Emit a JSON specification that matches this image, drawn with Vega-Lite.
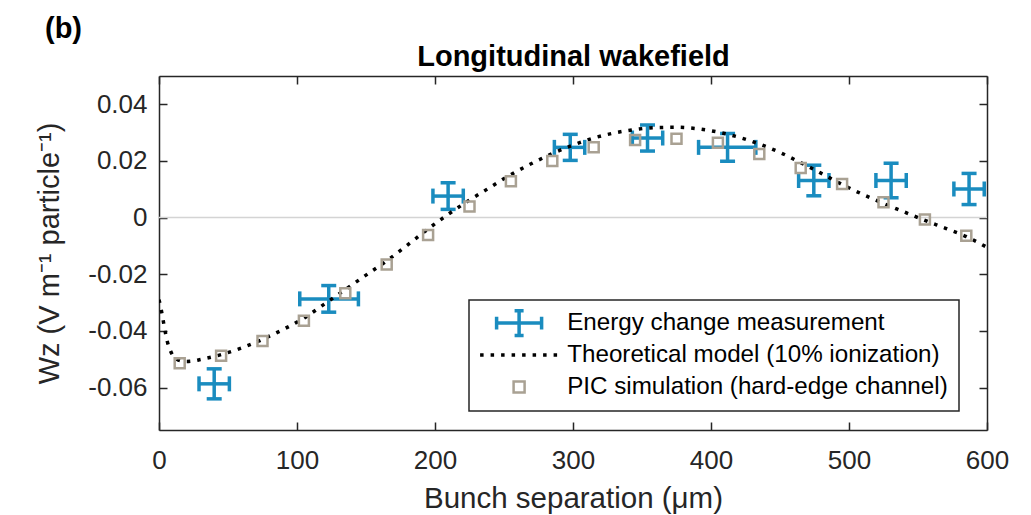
{
  "$schema": "https://vega.github.io/schema/vega-lite/v6.json",
  "width": 828,
  "height": 354,
  "autosize": {"type": "none"},
  "padding": {"left": 159, "top": 76, "right": 44, "bottom": 85},
  "title": {"text": "(b)", "anchor": "start", "frame": "group", "dx": -114, "dy": 6, "fontSize": 29, "fontWeight": "bold", "font": "Liberation Sans", "color": "#000000", "offset": 4},
  "datasets": {
    "meas": [
      {"x": 40, "y": -0.0587, "xlo": 29, "xhi": 51, "ylo": -0.064, "yhi": -0.0534},
      {"x": 123, "y": -0.0287, "xlo": 102, "xhi": 144.5, "ylo": -0.0334, "yhi": -0.024},
      {"x": 209.5, "y": 0.0076, "xlo": 198.5, "xhi": 220.5, "ylo": 0.0029, "yhi": 0.0123},
      {"x": 298, "y": 0.0248, "xlo": 286.5, "xhi": 308.5, "ylo": 0.0202, "yhi": 0.0294},
      {"x": 354, "y": 0.0281, "xlo": 343, "xhi": 365, "ylo": 0.0235, "yhi": 0.0327},
      {"x": 412, "y": 0.0248, "xlo": 391, "xhi": 432.5, "ylo": 0.0199, "yhi": 0.0297},
      {"x": 474.5, "y": 0.0131, "xlo": 463.5, "xhi": 485.5, "ylo": 0.0077, "yhi": 0.0185},
      {"x": 530.5, "y": 0.0131, "xlo": 519.5, "xhi": 541.5, "ylo": 0.007, "yhi": 0.0192},
      {"x": 587, "y": 0.0101, "xlo": 576, "xhi": 598, "ylo": 0.0046, "yhi": 0.0156}
    ],
    "theory": [
      {"x": 0, "y": -0.029}, {"x": 1, "y": -0.031}, {"x": 2, "y": -0.0335}, {"x": 3, "y": -0.0362},
      {"x": 4, "y": -0.039}, {"x": 5, "y": -0.0415}, {"x": 6, "y": -0.0437}, {"x": 8, "y": -0.0467},
      {"x": 10, "y": -0.0487}, {"x": 13, "y": -0.05}, {"x": 16, "y": -0.0506}, {"x": 20, "y": -0.0508},
      {"x": 25, "y": -0.0506}, {"x": 30, "y": -0.0501}, {"x": 45, "y": -0.0484}, {"x": 60, "y": -0.046},
      {"x": 75, "y": -0.043}, {"x": 90, "y": -0.0395}, {"x": 105, "y": -0.0355}, {"x": 120, "y": -0.0305},
      {"x": 135, "y": -0.0254}, {"x": 150, "y": -0.0203}, {"x": 165, "y": -0.0153}, {"x": 180, "y": -0.0097},
      {"x": 195, "y": -0.004}, {"x": 210, "y": 0.0013}, {"x": 225, "y": 0.0062}, {"x": 240, "y": 0.0107},
      {"x": 255, "y": 0.0152}, {"x": 270, "y": 0.0191}, {"x": 285, "y": 0.0226}, {"x": 300, "y": 0.0256},
      {"x": 315, "y": 0.0281}, {"x": 330, "y": 0.0299}, {"x": 345, "y": 0.0311}, {"x": 360, "y": 0.0318},
      {"x": 375, "y": 0.0319}, {"x": 390, "y": 0.0314}, {"x": 405, "y": 0.0302}, {"x": 420, "y": 0.0284},
      {"x": 435, "y": 0.026}, {"x": 450, "y": 0.023}, {"x": 465, "y": 0.0194}, {"x": 480, "y": 0.0156},
      {"x": 495, "y": 0.0117}, {"x": 510, "y": 0.0082}, {"x": 525, "y": 0.005}, {"x": 540, "y": 0.002},
      {"x": 555, "y": -0.001}, {"x": 570, "y": -0.0038}, {"x": 585, "y": -0.0067}, {"x": 600, "y": -0.0105}
    ],
    "pic": [
      {"x": 15, "y": -0.0514}, {"x": 45, "y": -0.0488}, {"x": 75, "y": -0.0436}, {"x": 105, "y": -0.0364},
      {"x": 135, "y": -0.0267}, {"x": 165, "y": -0.0166}, {"x": 195, "y": -0.0061}, {"x": 225, "y": 0.0039},
      {"x": 255, "y": 0.0128}, {"x": 285, "y": 0.02}, {"x": 315, "y": 0.0248}, {"x": 345, "y": 0.0274},
      {"x": 375, "y": 0.0278}, {"x": 405, "y": 0.0264}, {"x": 435, "y": 0.0225}, {"x": 465, "y": 0.0175},
      {"x": 495, "y": 0.0119}, {"x": 525, "y": 0.0054}, {"x": 555, "y": -0.0007}, {"x": 585, "y": -0.0064}
    ]
  },
  "layer": [
    {
      "data": {"values": [{"v": 0}]},
      "mark": {"type": "rule", "color": "#d4d4d4", "strokeWidth": 1.5},
      "encoding": {
        "y": {"field": "v", "type": "quantitative", "scale": {"domain": [-0.075, 0.05], "nice": false, "zero": false}, "axis": null}
      }
    },
    {
      "data": {"name": "meas"},
      "mark": {"type": "rule", "strokeWidth": 3.5},
      "encoding": {
        "x": {"field": "xlo", "type": "quantitative", "scale": {"domain": [0, 600], "nice": false, "zero": false}, "axis": null},
        "x2": {"field": "xhi"},
        "y": {"field": "y", "type": "quantitative", "scale": {"domain": [-0.075, 0.05], "nice": false, "zero": false}, "axis": null},
        "color": {"datum": "Energy change measurement", "type": "nominal", "scale": {"domain": ["Energy change measurement", "Theoretical model (10% ionization)", "PIC simulation (hard-edge channel)"], "range": ["#1a8cbf", "#000000", "#a9a193"]}, "legend": {
          "orient": "none", "legendX": 310, "legendY": 224, "title": null,
          "symbolSize": 900, "labelFontSize": 24.2, "labelFont": "Liberation Sans", "labelColor": "#000000",
          "labelLimit": 0, "padding": 11, "rowPadding": -9, "gridAlign": "all", "symbolOffset": 27, "labelOffset": 36,
          "symbolFillColor": "transparent",
          "strokeColor": "#262626", "fillColor": "#ffffff",
          "encode": {
            "legend": {"update": {"strokeWidth": {"value": 1.5}}},
            "symbols": {"update": {
              "shape": {"signal": "datum.value === 'Energy change measurement' ? 'M-1.5,0H1.5M-1.5,-0.43V0.43M1.5,-0.43V0.43M0,-0.83V0.83M-0.3,-0.83H0.3M-0.3,0.83H0.3' : (datum.value === 'PIC simulation (hard-edge channel)' ? 'square' : 'M-2.6,0H2.6')"},
              "stroke": {"signal": "datum.value === 'Energy change measurement' ? '#1a8cbf' : (datum.value === 'PIC simulation (hard-edge channel)' ? '#a9a193' : '#000000')"},
              "strokeOpacity": {"value": 1},
              "fill": {"value": "transparent"},
              "fillOpacity": {"value": 0},
              "strokeWidth": {"signal": "datum.value === 'PIC simulation (hard-edge channel)' ? 2.5 : 3.5"},
              "strokeDash": {"signal": "datum.value === 'Theoretical model (10% ionization)' ? [3.5, 7] : []"},
              "size": {"signal": "datum.value === 'PIC simulation (hard-edge channel)' ? 121 : 900"},
              "opacity": {"value": 1}
            }}
          }
        }}
      }
    },
    {
      "data": {"name": "meas"},
      "mark": {"type": "rule", "strokeWidth": 3.5},
      "encoding": {
        "x": {"field": "x", "type": "quantitative", "scale": {"domain": [0, 600], "nice": false, "zero": false}, "axis": null},
        "y": {"field": "ylo", "type": "quantitative", "scale": {"domain": [-0.075, 0.05], "nice": false, "zero": false}, "axis": null},
        "y2": {"field": "yhi"},
        "color": {"datum": "Energy change measurement", "type": "nominal"}
      }
    },
    {
      "data": {"name": "meas"},
      "mark": {"type": "tick", "orient": "vertical", "size": 15, "thickness": 3.5, "opacity": 1},
      "encoding": {
        "x": {"field": "xlo", "type": "quantitative", "scale": {"domain": [0, 600], "nice": false, "zero": false}, "axis": null},
        "y": {"field": "y", "type": "quantitative", "scale": {"domain": [-0.075, 0.05], "nice": false, "zero": false}, "axis": null},
        "color": {"datum": "Energy change measurement", "type": "nominal"}
      }
    },
    {
      "data": {"name": "meas"},
      "mark": {"type": "tick", "orient": "vertical", "size": 15, "thickness": 3.5, "opacity": 1},
      "encoding": {
        "x": {"field": "xhi", "type": "quantitative", "scale": {"domain": [0, 600], "nice": false, "zero": false}, "axis": null},
        "y": {"field": "y", "type": "quantitative", "scale": {"domain": [-0.075, 0.05], "nice": false, "zero": false}, "axis": null},
        "color": {"datum": "Energy change measurement", "type": "nominal"}
      }
    },
    {
      "data": {"name": "meas"},
      "mark": {"type": "tick", "orient": "horizontal", "size": 15, "thickness": 3.5, "opacity": 1},
      "encoding": {
        "x": {"field": "x", "type": "quantitative", "scale": {"domain": [0, 600], "nice": false, "zero": false}, "axis": null},
        "y": {"field": "ylo", "type": "quantitative", "scale": {"domain": [-0.075, 0.05], "nice": false, "zero": false}, "axis": null},
        "color": {"datum": "Energy change measurement", "type": "nominal"}
      }
    },
    {
      "data": {"name": "meas"},
      "mark": {"type": "tick", "orient": "horizontal", "size": 15, "thickness": 3.5, "opacity": 1},
      "encoding": {
        "x": {"field": "x", "type": "quantitative", "scale": {"domain": [0, 600], "nice": false, "zero": false}, "axis": null},
        "y": {"field": "yhi", "type": "quantitative", "scale": {"domain": [-0.075, 0.05], "nice": false, "zero": false}, "axis": null},
        "color": {"datum": "Energy change measurement", "type": "nominal"}
      }
    },
    {
      "data": {"name": "theory"},
      "mark": {"type": "line", "strokeWidth": 3.5, "strokeDash": [3.5, 7], "interpolate": "monotone", "clip": true},
      "encoding": {
        "x": {"field": "x", "type": "quantitative", "scale": {"domain": [0, 600], "nice": false, "zero": false},
          "axis": {"orient": "bottom", "values": [0, 100, 200, 300, 400, 500, 600], "title": "Bunch separation (μm)", "titleFontSize": 29.5, "labelPadding": 25, "titlePadding": 11, "labelFlush": false, "labelOverlap": false}},
        "y": {"field": "y", "type": "quantitative", "scale": {"domain": [-0.075, 0.05], "nice": false, "zero": false},
          "axis": {"orient": "left", "values": [-0.06, -0.04, -0.02, 0, 0.02, 0.04], "labelExpr": "datum.value === 0 ? '0' : (datum.value < 0 ? '-' : '') + format(abs(datum.value), '.2f')", "title": "Wz  (V m⁻¹  particle⁻¹)", "titleFontSize": 29, "labelPadding": 20, "titlePadding": 23, "labelFlush": false, "labelOverlap": false}},
        "color": {"datum": "Theoretical model (10% ionization)", "type": "nominal"}
      }
    },
    {
      "data": {"name": "pic"},
      "mark": {"type": "point", "shape": "square", "filled": false, "size": 100, "strokeWidth": 2.5, "opacity": 1},
      "encoding": {
        "x": {"field": "x", "type": "quantitative", "scale": {"domain": [0, 600], "nice": false, "zero": false},
          "axis": {"orient": "top", "values": [0, 100, 200, 300, 400, 500, 600], "labels": false, "title": "Longitudinal wakefield", "titleFontWeight": "bold", "titleFontSize": 29, "titleColor": "#000000", "titlePadding": 4}},
        "y": {"field": "y", "type": "quantitative", "scale": {"domain": [-0.075, 0.05], "nice": false, "zero": false},
          "axis": {"orient": "right", "values": [-0.06, -0.04, -0.02, 0, 0.02, 0.04], "labels": false, "title": null}},
        "color": {"datum": "PIC simulation (hard-edge channel)", "type": "nominal"}
      }
    }
  ],
  "resolve": {"axis": {"x": "independent", "y": "independent"}},
  "config": {
    "font": "Liberation Sans",
    "view": {"stroke": null},
    "axis": {
      "grid": false,
      "domainColor": "#262626", "domainWidth": 1.5,
      "tickColor": "#262626", "tickWidth": 1.5, "tickSize": -8,
      "labelColor": "#262626", "labelFont": "Liberation Sans", "labelFontSize": 26,
      "titleColor": "#262626", "titleFont": "Liberation Sans", "titleFontSize": 28, "titleFontWeight": "normal"
    }
  }
}
